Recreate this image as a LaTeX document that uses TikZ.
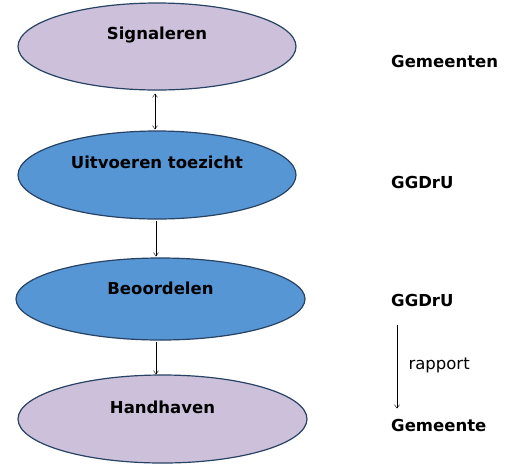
\documentclass[tikz,border=0pt]{standalone}
\usepackage{fontspec}
\setmainfont{DejaVu Sans}
\usepackage{tikz}
\usetikzlibrary{shapes.geometric, arrows.meta, positioning}

\definecolor{lilac}{RGB}{204,192,218}
\definecolor{stepblue}{RGB}{87,150,212}
\definecolor{rimblue}{RGB}{40,66,100}

\begin{document}
\begin{tikzpicture}[
    x=1pt, y=-1pt,
    phase/.style={ellipse, draw=rimblue, line width=1.2pt, inner sep=0pt},
    title/.style={font=\fontsize{16.5}{19}\selectfont\bfseries},
    actor/.style={anchor=west, font=\fontsize{16.5}{19}\selectfont\bfseries, inner sep=2pt},
    arrow/.style={-{Straight Barb[length=3.5pt, width=5pt]}, thin}
]
\useasboundingbox (0,0) rectangle (510,469);

% Left column - process steps
\node [phase, fill=lilac, minimum width=278pt, minimum height=87pt,
       label={[yshift=11.5pt, title]center:Signaleren}] (sig) at (157,46.5) {};
\node [phase, fill=stepblue, minimum width=278pt, minimum height=88pt,
       label={[yshift=13pt, title]center:Uitvoeren toezicht}] (toez) at (157,175) {};
\node [phase, fill=stepblue, minimum width=289pt, minimum height=82pt,
       label={[yshift=11pt, title]center:Beoordelen}] (beoord) at (160.5,299) {};
\node [phase, fill=lilac, minimum width=289pt, minimum height=88pt,
       label={[yshift=12pt, title]center:Handhaven}] (handh) at (162.5,419) {};

% Right column - responsible parties
\node [actor] (gemA) at (389,61) {Gemeenten};
\node [actor] (ggdA) at (389,182) {GGDrU};
\node [actor] (ggdB) at (389,300) {GGDrU};
\node [actor] (gemB) at (389,425) {Gemeente};

% Arrows
\draw [arrow, {Straight Barb[length=3.5pt, width=5pt]}-{Straight Barb[length=3.5pt, width=5pt]}, shorten <=3pt, shorten >=1pt] ([xshift=-2pt]sig.south) -- ([xshift=-2pt]toez.north);
\draw [arrow, shorten <=1pt, shorten >=1pt] ([xshift=-1pt]toez.south) -- ([xshift=-4.5pt]beoord.north);
\draw [arrow, shorten <=1pt, shorten >=0pt] ([xshift=-4.5pt]beoord.south) -- ([xshift=-6.5pt]handh.north);
\draw [arrow, shorten <=17pt, shorten >=8pt] ([xshift=8pt]ggdB.south west) -- ([xshift=8pt]gemB.north west)
    node [midway, right=8pt, yshift=-3pt, font=\fontsize{16.5}{19}\selectfont] (rap) {rapport};

\end{tikzpicture}
\end{document}
